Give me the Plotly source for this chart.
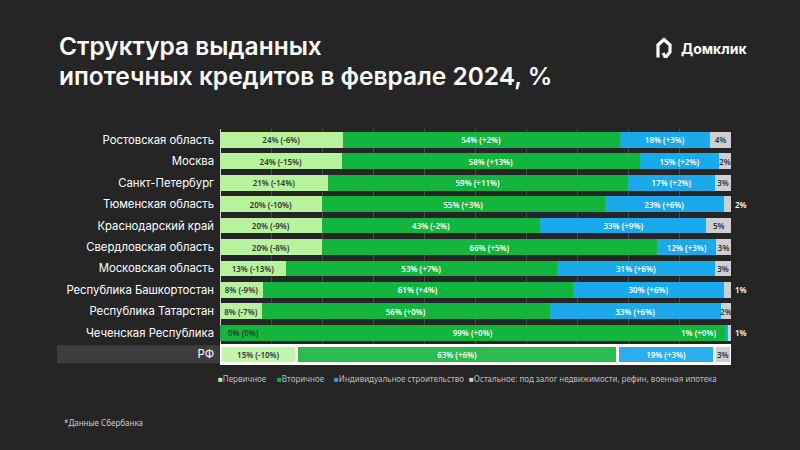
import plotly.graph_objects as go

regions = ['Ростовская область', 'Москва', 'Санкт-Петербург', 'Тюменская область',
           'Краснодарский край', 'Свердловская область', 'Московская область',
           'Республика Башкортостан', 'Республика Татарстан', 'Чеченская Республика', 'РФ']

# shares, %
primary = [24.0, 23.8, 21.1, 19.9, 19.9, 19.9, 12.9, 8.4, 8.2, 0.0, 15.0]
secondary = [54.2, 58.4, 58.7, 55.4, 42.8, 65.7, 53.0, 60.6, 56.3, 98.9, 62.8]
ijs = [17.7, 15.4, 17.1, 23.3, 32.5, 11.5, 31.0, 29.7, 33.5, 0.5, 19.0]
other = [4.1, 2.4, 3.1, 1.4, 4.8, 2.9, 3.1, 1.3, 2.0, 0.6, 3.2]

primary_lbl = ['24% (-6%)', '24% (-15%)', '21% (-14%)', '20% (-10%)', '20% (-9%)', '20% (-8%)',
               '13% (-13%)', '8% (-9%)', '8% (-7%)', '0% (0%)', '15% (-10%)']
secondary_lbl = ['54% (+2%)', '58% (+13%)', '59% (+11%)', '55% (+3%)', '43% (-2%)', '66% (+5%)',
                 '53% (+7%)', '61% (+4%)', '56% (+0%)', '99% (+0%)', '63% (+6%)']
ijs_lbl = ['18% (+3%)', '15% (+2%)', '17% (+2%)', '23% (+6%)', '33% (+9%)', '12% (+3%)',
           '31% (+6%)', '30% (+6%)', '33% (+6%)', '1% (+0%)', '19% (+3%)']
other_lbl = ['4%', '2%', '3%', '2%', '5%', '3%', '3%', '1%', '2%', '1%', '3%']

legend_names = ['Первичное', 'Вторичное', 'Индивидуальное строительство',
                'Остальное: под залог недвижимости, рефин, военная ипотека']

BG = '#252525'
C_PRIM, C_PRIM_RF = '#b6f39c', '#c2f4ab'
C_SEC, C_SEC_RF = '#12b53d', '#2bbb52'
C_IJS, C_IJS_RF = '#1aa9eb', '#2aaef0'
C_OTH = '#cfcfcf'

n = len(regions)
rf = n - 1
chech = regions.index('Чеченская Республика')
small_out = [i for i in range(n) if other[i] < 1.8]   # labels pushed outside the bar

L, R, T, B = 220, 69, 129, 85
W, H = 800, 450


def px(x):
    return (x - L) / (W - L - R)


def py(y):
    return (H - B - y) / (H - T - B)


def cols(c, c_rf):
    return [c_rf if i == rf else c for i in range(n)]


widths = [0.86 if i == rf else 0.74 for i in range(n)]
lw = [3 if i == rf else 0 for i in range(n)]

fig = go.Figure()
series = [
    (primary, primary_lbl, cols(C_PRIM, C_PRIM_RF), '#333333', [chech]),
    (secondary, secondary_lbl, cols(C_SEC, C_SEC_RF), 'white', []),
    (ijs, ijs_lbl, cols(C_IJS, C_IJS_RF), 'white', [chech]),
    (other, other_lbl, [C_OTH] * n, '#333333', small_out),
]
for (vals, lbls, colors, tcol, skip), name in zip(series, legend_names):
    fig.add_trace(go.Bar(
        y=regions, x=vals, orientation='h', name=name, width=widths,
        marker=dict(color=colors, line=dict(color='white', width=lw)),
        text=['' if i in skip else t for i, t in enumerate(lbls)],
        textposition='inside', insidetextanchor='middle', textangle=0,
        constraintext='none',
        textfont=dict(size=8, color=tcol, family='Noto Sans', weight=600),
        hoverinfo='skip', showlegend=False,
    ))

ann = []
# labels that do not fit inside their segments
ann.append(dict(x=1.2, y=regions[chech], xref='x', yref='y', text=primary_lbl[chech],
                xanchor='left', showarrow=False,
                font=dict(size=8, color='#333333', family='Noto Sans', weight=600)))
ann.append(dict(x=primary[chech] + secondary[chech] - 1.5, y=regions[chech], xref='x', yref='y',
                text=ijs_lbl[chech], xanchor='right', showarrow=False,
                font=dict(size=8, color='white', family='Noto Sans', weight=600)))
for i in small_out:
    ann.append(dict(x=px(733), y=regions[i], xref='paper', yref='y', text=other_lbl[i],
                    xanchor='left', showarrow=False,
                    font=dict(size=8, color='white', family='Noto Sans', weight=600)))

# title and logo
ann.append(dict(x=px(57), y=py(46), xref='paper', yref='paper', text='Структура выданных',
                xanchor='left', yanchor='middle', showarrow=False,
                font=dict(size=24.5, color='white', family='Inter', weight=600)))
ann.append(dict(x=px(57), y=py(76), xref='paper', yref='paper',
                text='ипотечных кредитов в феврале 2024, %',
                xanchor='left', yanchor='middle', showarrow=False,
                font=dict(size=24.5, color='white', family='Inter', weight=600)))
ann.append(dict(x=px(679), y=py(48), xref='paper', yref='paper', text='Домклик',
                xanchor='left', yanchor='middle', showarrow=False,
                font=dict(size=14, color='white', family='Inter', weight=700)))

# legend drawn as text
leg_x = [216, 275, 332, 467]
leg_c = [C_PRIM, C_SEC, C_IJS, C_OTH]
for x, c, name in zip(leg_x, leg_c, legend_names):
    ann.append(dict(x=px(x), y=py(378), xref='paper', yref='paper',
                    text=f'<span style="color:{c}">■</span>{name}',
                    xanchor='left', yanchor='middle', showarrow=False,
                    font=dict(size=8, color='#bdbdbd', family='Noto Sans')))

ann.append(dict(x=px(62), y=py(422), xref='paper', yref='paper', text='*Данные Сбербанка',
                xanchor='left', yanchor='middle', showarrow=False,
                font=dict(size=8, color='#cccccc', family='Noto Sans')))

# house icon of the logo
pts = [(658, 57.5), (658, 45), (664, 39.5), (670, 45), (670, 52), (665.5, 57.5)]
path = 'M ' + ' L '.join(f'{px(a):.5f},{py(b):.5f}' for a, b in pts)
shapes = [
    dict(type='path', path=path, xref='paper', yref='paper',
         line=dict(color='white', width=3.2), layer='above'),
    dict(type='path', path=f'M {px(665.5):.5f},{py(57.5):.5f} L {px(663):.5f},{py(53):.5f}',
         xref='paper', yref='paper', line=dict(color='white', width=3.2), layer='above'),
    # grey band behind the РФ row label
    dict(type='rect', xref='paper', yref='y', x0=px(57), x1=0, y0=rf - 0.42, y1=rf + 0.42,
         fillcolor='#3d3d3d', line=dict(width=0), layer='below'),
]

fig.update_layout(
    width=W, height=H, barmode='stack',
    margin=dict(l=L, r=R, t=T, b=B),
    paper_bgcolor=BG, plot_bgcolor=BG,
    xaxis=dict(range=[0, 100], dtick=10, showgrid=True, gridcolor='#4a4a4a', gridwidth=1,
               showticklabels=False, zeroline=True, zerolinecolor='#d0d0d0', zerolinewidth=1,
               fixedrange=True),
    yaxis=dict(autorange='reversed', showgrid=False, ticks='', ticklabelstandoff=5,
               tickfont=dict(size=11.3, color='white', family='Inter'), fixedrange=True),
    annotations=ann, shapes=shapes, showlegend=False,
)

fig.write_html('out.html', config={'displayModeBar': False},
               post_script="document.body.style.margin='0';")
